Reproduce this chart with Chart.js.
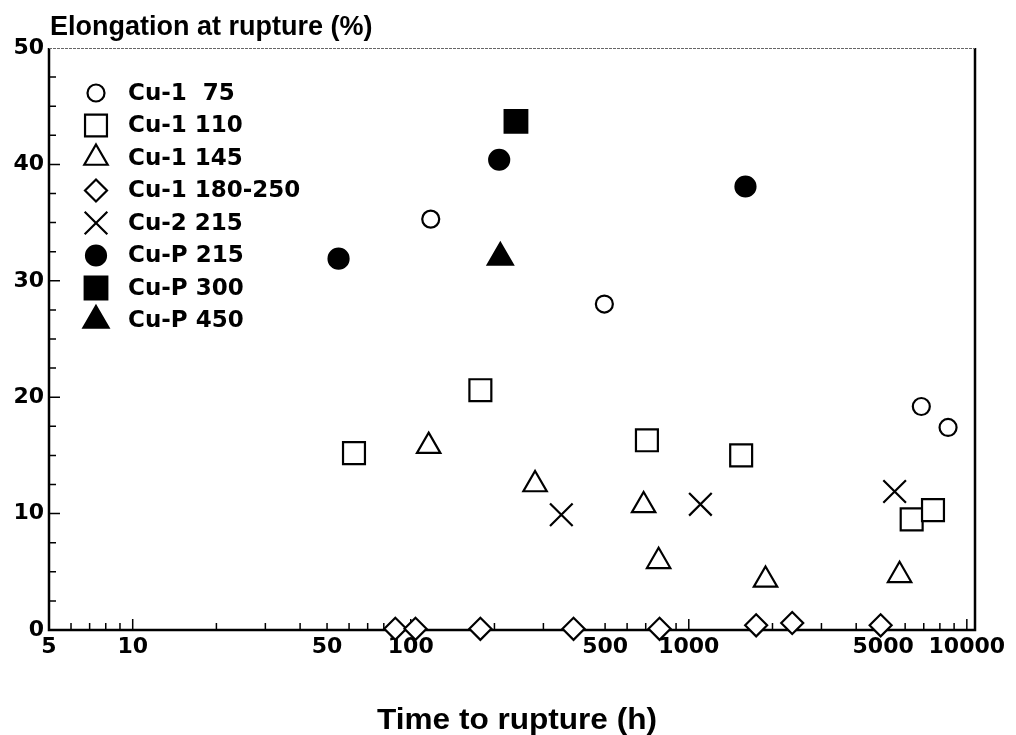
<!DOCTYPE html>
<html>
<head>
<meta charset="utf-8">
<script src="https://cdn.jsdelivr.net/npm/chart.js@4.4.0/dist/chart.umd.min.js"></script>
<style>
html, body { margin: 0; padding: 0; background: #fff; }
#wrap { width: 1016px; height: 735px; }
</style>
</head>
<body>
<div id="wrap"><canvas id="ruptureChart" width="1016" height="735"></canvas></div>
<script>
// time to rupture (h) / elongation at rupture (%)
const cu1_75_time = [118, 497, 6860, 8560];
const cu1_75_elong = [35.3, 28.0, 19.2, 17.4];

const cu1_110_time = [62.5, 178, 707, 1543, 6333, 7556];
const cu1_110_elong = [15.2, 20.6, 16.3, 15.0, 9.5, 10.3];

const cu1_145_time = [116, 280, 688, 779, 1888, 5730];
const cu1_145_elong = [15.8, 12.5, 10.7, 5.9, 4.3, 4.7];

const cu1_180_time = [88, 104, 178, 385, 785, 1747, 2355, 4898];
const cu1_180_elong = [0.1, 0.1, 0.1, 0.1, 0.1, 0.4, 0.6, 0.4];

const cu2_215_time = [348, 1101, 5500];
const cu2_215_elong = [9.9, 10.8, 11.9];

const cuP_215_time = [55, 208, 1599];
const cuP_215_elong = [31.9, 40.4, 38.1];

const cuP_300_time = [239];
const cuP_300_elong = [43.7];

const cuP_450_time = [210];
const cuP_450_elong = [32.0];

const xTickLabels = [5, 10, 50, 100, 500, 1000, 5000, 10000];
const yTickLabels = [0, 10, 20, 30, 40, 50];

const toPoints = (xs, ys) => xs.map((x, i) => ({ x: x, y: ys[i] }));

function series(label, xs, ys, style, radius, filled) {
    return {
        label: label,
        data: toPoints(xs, ys),
        pointStyle: style,
        pointRadius: radius,
        pointHoverRadius: radius,
        pointBorderWidth: 2.2,
        borderColor: '#000',
        pointBorderColor: '#000',
        pointBackgroundColor: filled ? '#000' : '#fff',
        backgroundColor: filled ? '#000' : '#fff',
        showLine: false,
        clip: false
    };
}

const datasets = [
    series('Cu-1  75', cu1_75_time, cu1_75_elong, 'circle', 8.5, false),
    series('Cu-1 110', cu1_110_time, cu1_110_elong, 'rect', 15.5, false),
    series('Cu-1 145', cu1_145_time, cu1_145_elong, 'triangle', 13.5, false),
    series('Cu-1 180-250', cu1_180_time, cu1_180_elong, 'rectRot', 11, false),
    series('Cu-2 215', cu2_215_time, cu2_215_elong, 'crossRot', 16, false),
    series('Cu-P 215', cuP_215_time, cuP_215_elong, 'circle', 10, true),
    series('Cu-P 300', cuP_300_time, cuP_300_elong, 'rect', 16, true),
    series('Cu-P 450', cuP_450_time, cuP_450_elong, 'triangle', 14.5, true)
];

const tickFont = { family: '"DejaVu Sans", sans-serif', size: 22, weight: 'bold' };

// frame + inward tick marks under the markers, titles and legend on top
const frameAndTicks = {
    id: 'frameAndTicks',
    beforeDatasetsDraw(chart) {
        const { ctx, chartArea: a, scales: { x, y } } = chart;
        ctx.save();
        ctx.strokeStyle = '#000';
        ctx.lineWidth = 1.5;
        ctx.beginPath();
        for (let p = 1; p <= 10000; p *= 10) {
            for (let m = 1; m <= 9; m++) {
                const v = m * p;
                if (v < x.min || v > x.max) continue;
                const px = x.getPixelForValue(v);
                const len = m === 1 ? 11 : 7;
                ctx.moveTo(px, a.bottom);
                ctx.lineTo(px, a.bottom - len);
            }
        }
        for (let v = 2.5; v < 50; v += 2.5) {
            const py = y.getPixelForValue(v);
            const len = v % 10 === 0 ? 11 : 7;
            ctx.moveTo(a.left, py);
            ctx.lineTo(a.left + len, py);
        }
        ctx.stroke();

        ctx.lineWidth = 2.5;
        ctx.beginPath();
        ctx.moveTo(a.left, a.top);
        ctx.lineTo(a.left, a.bottom);
        ctx.lineTo(a.right, a.bottom);
        ctx.lineTo(a.right, a.top);
        ctx.stroke();

        ctx.strokeStyle = '#666';
        ctx.lineWidth = 1.2;
        ctx.setLineDash([3, 1]);
        ctx.beginPath();
        ctx.moveTo(a.left, a.top + 0.5);
        ctx.lineTo(a.right, a.top + 0.5);
        ctx.stroke();
        ctx.restore();
    },
    afterDraw(chart) {
        const { ctx } = chart;
        ctx.save();
        ctx.fillStyle = '#000';

        ctx.textBaseline = 'alphabetic';
        ctx.textAlign = 'left';
        ctx.font = 'bold 27px "Liberation Sans", Arial, sans-serif';
        ctx.fillText('Elongation at rupture (%)', 50, 35);

        // x title runs wide in the original: stretch it a little
        const xTitle = 'Time to rupture (h)';
        ctx.font = 'bold 29px "Liberation Sans", Arial, sans-serif';
        const w = ctx.measureText(xTitle).width;
        ctx.save();
        ctx.translate(517, 729);
        ctx.scale(280 / w, 1);
        ctx.textAlign = 'center';
        ctx.fillText(xTitle, 0, 0);
        ctx.restore();

        // legend
        ctx.textAlign = 'left';
        ctx.textBaseline = 'middle';
        ctx.font = 'bold 23px "DejaVu Sans", sans-serif';
        chart.data.datasets.forEach((ds, i) => {
            const cy = 93 + i * 32.5;
            ctx.strokeStyle = '#000';
            ctx.fillStyle = ds.pointBackgroundColor;
            ctx.lineWidth = 2.2;
            Chart.helpers.drawPoint(ctx, { pointStyle: ds.pointStyle, rotation: 0, radius: ds.pointRadius, borderWidth: 2.2 }, 96, cy);
            ctx.fillStyle = '#000';
            ctx.fillText(ds.label, 128, cy + 1);
        });
        ctx.restore();
    }
};

const ctx = document.getElementById('ruptureChart').getContext('2d');
new Chart(ctx, {
    type: 'scatter',
    data: { datasets: datasets },
    options: {
        responsive: false,
        devicePixelRatio: 1,
        animation: false,
        layout: { padding: { top: 48, right: 41, bottom: 0, left: 0 } },
        plugins: {
            legend: { display: false },
            tooltip: { enabled: false }
        },
        scales: {
            x: {
                type: 'logarithmic',
                min: 5,
                max: 10700,
                grid: { display: false, drawTicks: false },
                border: { display: false },
                afterBuildTicks: scale => {
                    scale.ticks = xTickLabels.map(v => ({ value: v }));
                },
                afterFit: scale => { scale.height = 105; },
                ticks: {
                    color: '#000',
                    font: tickFont,
                    padding: 4,
                    maxRotation: 0,
                    autoSkip: false,
                    callback: v => String(v)
                }
            },
            y: {
                min: 0,
                max: 50,
                grid: { display: false, drawTicks: false },
                border: { display: false },
                afterBuildTicks: scale => {
                    scale.ticks = yTickLabels.map(v => ({ value: v }));
                },
                afterFit: scale => { scale.width = 49; },
                ticks: {
                    color: '#000',
                    font: tickFont,
                    padding: 5
                }
            }
        }
    },
    plugins: [frameAndTicks]
});
</script>
</body>
</html>
